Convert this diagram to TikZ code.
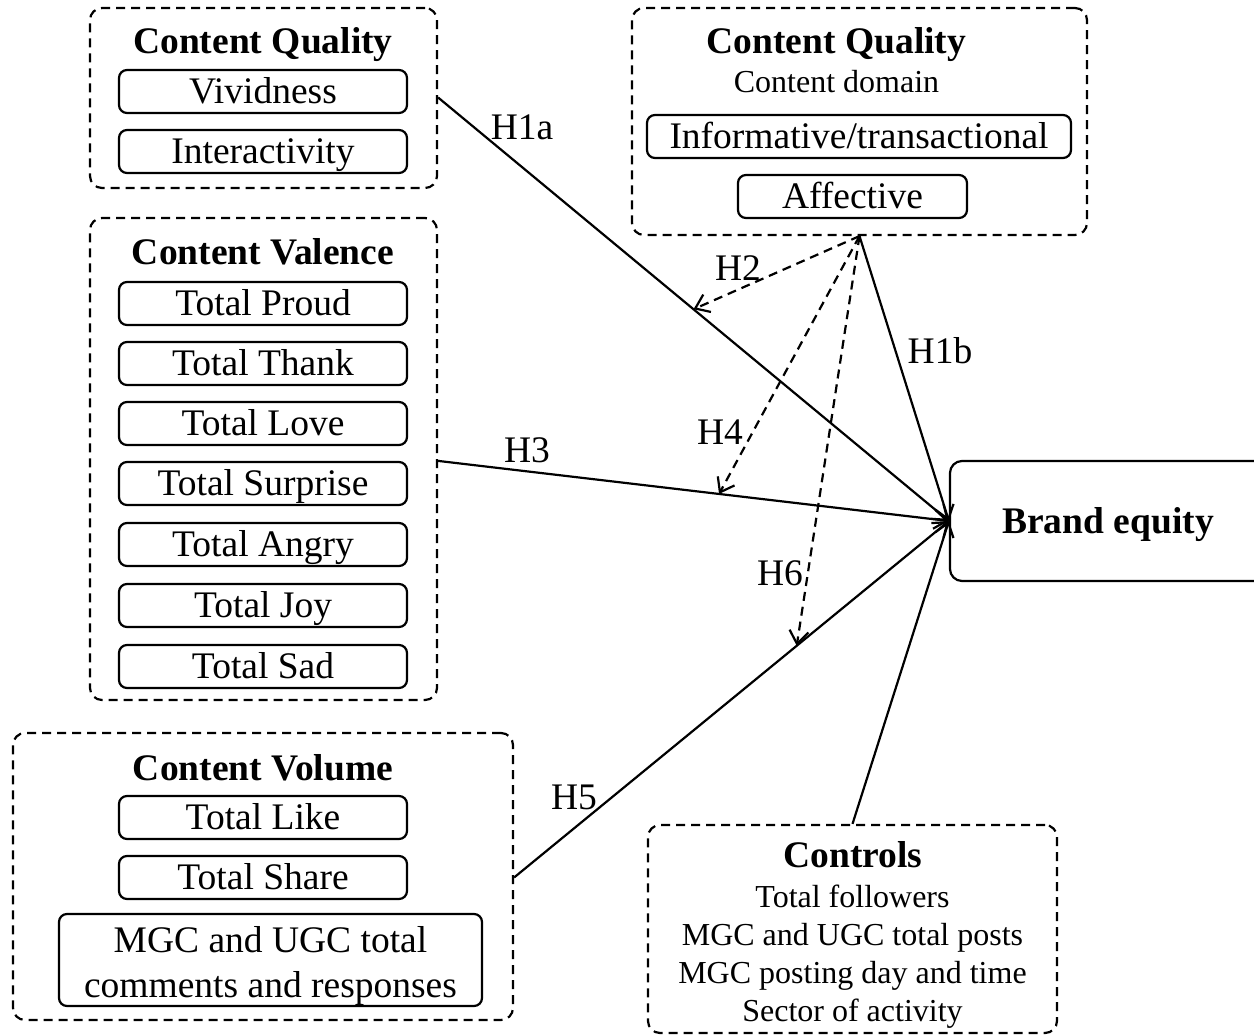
\documentclass[tikz,border=0pt]{standalone}
\usepackage{fontspec}
\setmainfont{Liberation Serif}
\usepackage{tikz}
\usetikzlibrary{arrows.meta,positioning}
\newcommand{\bigfont}{\fontsize{37.5}{45}\selectfont}
\newcommand{\smallfont}{\fontsize{32}{38}\selectfont}
\tikzstyle{grp} = [draw, line width=2.2pt, dash pattern=on 9pt off 6pt, rounded corners=12pt, inner sep=0pt]
\tikzstyle{inbox} = [draw, line width=2.2pt, rounded corners=8pt, minimum width=288pt, minimum height=43pt, inner sep=0pt, text height=24.5pt, text depth=0pt]
\tikzstyle{ttl} = [anchor=base, inner sep=0pt, font=\bigfont\bfseries]
\tikzstyle{txt} = [anchor=base, inner sep=0pt]
\tikzstyle{small} = [anchor=base, inner sep=0pt, font=\smallfont]
\tikzstyle{hyp} = [inner sep=0pt, text height=24.5pt, text depth=0pt]
\tikzstyle{arrow} = [line width=2.2pt, -{Straight Barb[length=13pt,width=19pt]}]
\tikzstyle{darrow} = [arrow, dash pattern=on 9pt off 6pt]

\begin{document}
\begin{tikzpicture}[x=1pt, y=-1pt, font=\bigfont]
\useasboundingbox (0,0) rectangle (1254,1035);

% Content quality (left)
\node[grp, minimum width=347pt, minimum height=180pt] (cqa) at (263.5,98) {};
\node[ttl] (cqat) at (263,54) {Content Quality};
\node[inbox] (viv) at (263,91.5) {Vividness};
\node[inbox] (inter) at (263,151.5) {Interactivity};

% Content valence
\node[grp, minimum width=347pt, minimum height=482pt] (cv) at (263.5,459) {};
\node[ttl] (cvt) at (263,265) {Content Valence};
\node[inbox] (proud) at (263,303.5) {Total Proud};
\node[inbox] (thank) at (263,363.5) {Total Thank};
\node[inbox] (love) at (263,423.5) {Total Love};
\node[inbox] (surp) at (263,483.5) {Total Surprise};
\node[inbox] (angry) at (263,544.5) {Total Angry};
\node[inbox] (joy) at (263,605.5) {Total Joy};
\node[inbox] (sad) at (263,666.5) {Total Sad};

% Content volume
\node[grp, minimum width=500pt, minimum height=287pt] (cvol) at (263,876.5) {};
\node[ttl] (cvolt) at (263,780) {Content Volume};
\node[inbox] (like) at (263,817.5) {Total Like};
\node[inbox] (share) at (263,877.5) {Total Share};
\node[inbox, minimum width=423pt, minimum height=92pt] (mgc) at (270.5,960) {};
\node[txt] (mgca) at (270.5,952) {MGC and UGC total};
\node[txt] (mgcb) at (270.5,997) {comments and responses};

% Content quality (right)
\node[grp, minimum width=455pt, minimum height=227pt] (cqb) at (859.5,121.5) {};
\node[ttl] (cqbt) at (836.5,54) {Content Quality};
\node[small] (dom) at (836.5,93) {Content domain};
\node[inbox, minimum width=424pt] (info) at (859,136.5) {Informative/transactional};
\node[inbox, minimum width=229pt] (aff) at (852.5,196.5) {Affective};

% Controls
\node[grp, minimum width=409pt, minimum height=208pt] (ctrl) at (852.5,929) {};
\node[ttl] (ctrlt) at (853,867) {Controls};
\node[small] (c1) at (852.5,907) {Total followers};
\node[small] (c2) at (852.5,945) {MGC and UGC total posts};
\node[small] (c3) at (852.5,983) {MGC posting day and time};
\node[small] (c4) at (852.5,1021) {Sector of activity};

% Outcome
\node[inbox, minimum width=316pt, minimum height=120pt, rounded corners=12pt, font=\bigfont\bfseries] (be) at (1108,521) {Brand equity};

% Direct effects
\draw[arrow] ([yshift=-6pt]viv -| cqa.east) -- coordinate[pos=0.5] (h2end) (be.west);
\draw[arrow] (surp.north -| cv.east) -- coordinate[pos=0.55] (h4end) (be.west);
\draw[arrow] (share -| cvol.east) -- coordinate[pos=0.65] (h6end) (be.west);
\draw[arrow] (cqb.south) -- (be.west);
\draw[arrow] (ctrl.north) -- (be.west);

% Moderation
\draw[darrow] (cqb.south) -- (h2end);
\draw[darrow] (cqb.south) -- (h4end);
\draw[darrow] (cqb.south) -- (h6end);

% Hypotheses
\node[hyp] (h1a) at (522,127) {H1a};
\node[hyp] (h1b) at (940,351) {H1b};
\node[hyp] (h2) at (738,268) {H2};
\node[hyp] (h3) at (527,450) {H3};
\node[hyp] (h4) at (720,432) {H4};
\node[hyp] (h5) at (574,797) {H5};
\node[hyp] (h6) at (780,573) {H6};
\end{tikzpicture}
\end{document}
